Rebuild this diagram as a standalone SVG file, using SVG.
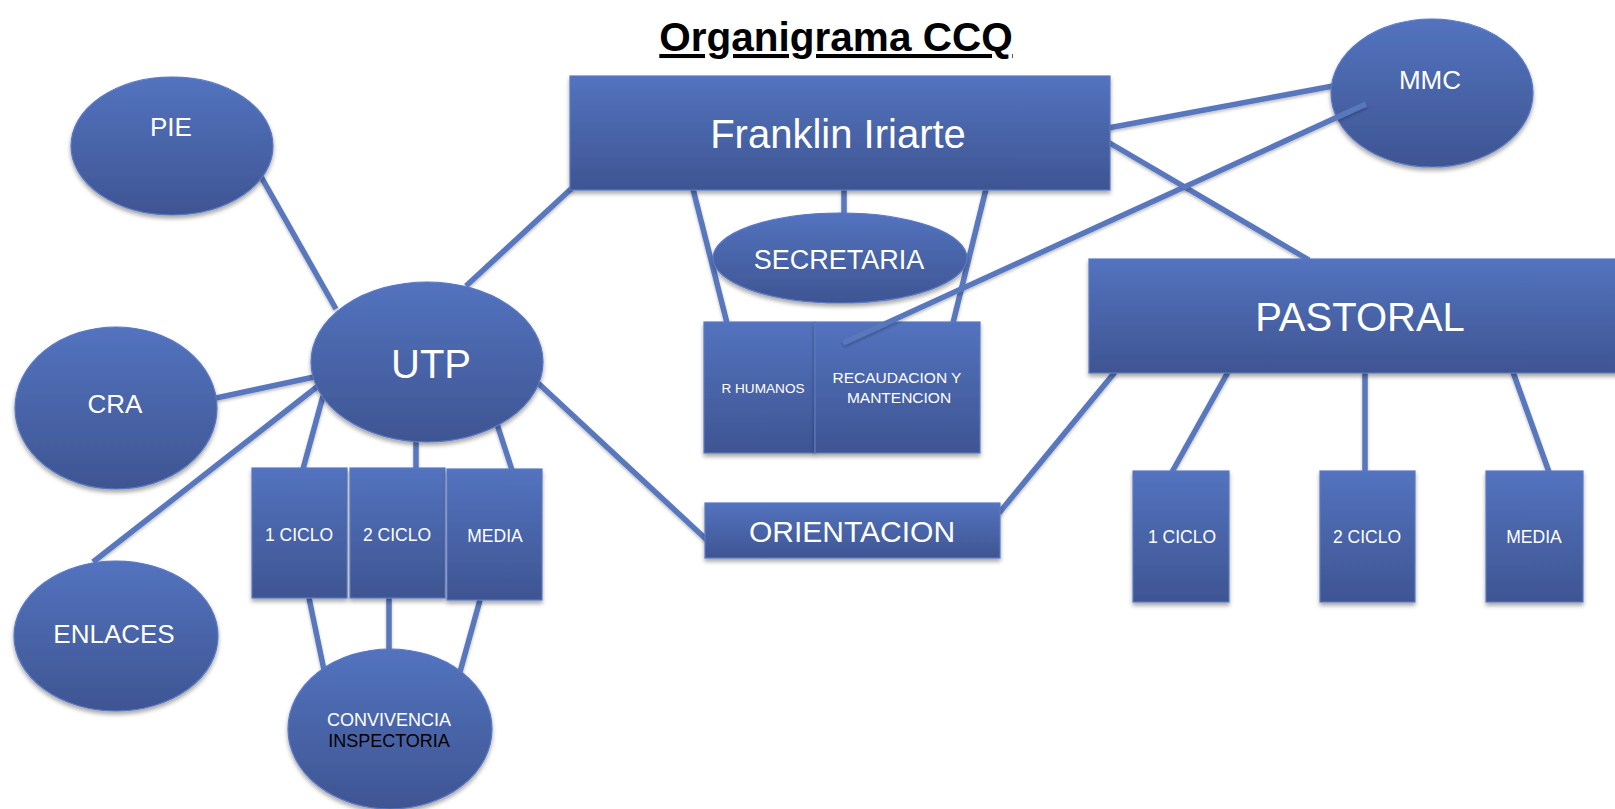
<svg xmlns="http://www.w3.org/2000/svg" width="1615" height="809" viewBox="0 0 1615 809">
<defs>
<linearGradient id="g" x1="0" y1="0" x2="0" y2="1">
<stop offset="0" stop-color="#5373BF"/>
<stop offset="1" stop-color="#3E5592"/>
</linearGradient>
<filter id="sh" x="-10%" y="-10%" width="120%" height="130%">
<feDropShadow dx="0" dy="3" stdDeviation="2.2" flood-color="#000" flood-opacity="0.35"/>
</filter>
<filter id="lsh" x="-10%" y="-10%" width="120%" height="130%">
<feDropShadow dx="0" dy="2" stdDeviation="1.5" flood-color="#000" flood-opacity="0.25"/>
</filter>
</defs>
<style>
.n{fill:url(#g);stroke:#5A78C2;stroke-width:1.2;filter:url(#sh)}
.c line{stroke:#5877BD;stroke-width:5.5;stroke-linecap:butt}
.t{font-family:"Liberation Sans",Arial,sans-serif;fill:#fff;text-anchor:middle}
.title{font-family:"Liberation Sans",Arial,sans-serif;font-weight:bold;font-size:40.5px;fill:#000;text-anchor:middle;text-decoration:underline}
</style>
<rect width="1615" height="809" fill="#fff"/>
<text class="title" x="836" y="51">Organigrama CCQ</text>
<g id="connectors" class="c" filter="url(#lsh)">
<line x1="572" y1="188" x2="466" y2="286"/>
<line x1="1108" y1="128" x2="1333" y2="86"/>
<line x1="1108" y1="142" x2="1309" y2="260"/>
<line x1="844" y1="189" x2="844" y2="215"/>
<line x1="693" y1="189" x2="727" y2="323"/>
<line x1="986" y1="189" x2="953" y2="323"/>
<line x1="538" y1="383" x2="707" y2="540"/>
<line x1="999" y1="513" x2="1115" y2="372"/>
<line x1="1228" y1="372" x2="1172" y2="472"/>
<line x1="1365" y1="372" x2="1365" y2="472"/>
<line x1="1513" y1="372" x2="1549" y2="472"/>
<line x1="259" y1="173" x2="336" y2="309"/>
<line x1="216" y1="398" x2="314" y2="377"/>
<line x1="93" y1="562" x2="318" y2="386"/>
<line x1="323" y1="396" x2="303" y2="469"/>
<line x1="416" y1="441" x2="416" y2="469"/>
<line x1="497" y1="424" x2="512" y2="470"/>
<line x1="309" y1="598" x2="324" y2="670"/>
<line x1="389" y1="598" x2="389" y2="652"/>
<line x1="480" y1="600" x2="460" y2="672"/>
</g>
<g id="franklin"><rect class="n" x="570" y="76" width="540" height="114"/><text class="t" x="838" y="148" font-size="40">Franklin Iriarte</text></g>
<g id="mmc"><ellipse class="n" cx="1432" cy="93" rx="101" ry="74"/><text class="t" x="1430" y="89" font-size="26">MMC</text></g>
<g id="secretaria"><ellipse class="n" cx="840" cy="258" rx="127" ry="45"/><text class="t" x="839" y="269" font-size="27">SECRETARIA</text></g>
<g id="rhumanos"><rect class="n" x="704" y="322" width="111" height="131"/><text class="t" x="763" y="393" font-size="13.6">R HUMANOS</text></g>
<g id="recaudacion"><rect class="n" x="815" y="322" width="165" height="131"/><text class="t" x="897" y="383" font-size="15.5">RECAUDACION Y</text><text class="t" x="899" y="403" font-size="15.5">MANTENCION</text></g>
<g id="orientacion"><rect class="n" x="705" y="503" width="295" height="55"/><text class="t" x="852" y="542" font-size="30">ORIENTACION</text></g>
<g id="pastoral"><rect class="n" x="1089" y="259" width="540" height="114"/><text class="t" x="1360" y="331" font-size="40">PASTORAL</text></g>
<g id="p1ciclo"><rect class="n" x="1133" y="471" width="96" height="131"/><text class="t" x="1182" y="543" font-size="17.5">1 CICLO</text></g>
<g id="p2ciclo"><rect class="n" x="1320" y="471" width="95" height="131"/><text class="t" x="1367" y="543" font-size="17.5">2 CICLO</text></g>
<g id="pmedia"><rect class="n" x="1486" y="471" width="97" height="131"/><text class="t" x="1534" y="543" font-size="17.5">MEDIA</text></g>
<g id="pie"><ellipse class="n" cx="172" cy="146" rx="101" ry="69"/><text class="t" x="171" y="136" font-size="26">PIE</text></g>
<g id="cra"><ellipse class="n" cx="116" cy="408" rx="101" ry="81"/><text class="t" x="115" y="413" font-size="26">CRA</text></g>
<g id="enlaces"><ellipse class="n" cx="116" cy="636" rx="102" ry="75"/><text class="t" x="114" y="643" font-size="26">ENLACES</text></g>
<g id="utp"><ellipse class="n" cx="427" cy="362" rx="116" ry="80"/><text class="t" x="431" y="378" font-size="40">UTP</text></g>
<g id="u1ciclo"><rect class="n" x="252" y="468" width="95" height="130"/><text class="t" x="299" y="541" font-size="17.5">1 CICLO</text></g>
<g id="u2ciclo"><rect class="n" x="350" y="468" width="95" height="130"/><text class="t" x="397" y="541" font-size="17.5">2 CICLO</text></g>
<g id="umedia"><rect class="n" x="447" y="469" width="95" height="131"/><text class="t" x="495" y="542" font-size="17.5">MEDIA</text></g>
<g id="convivencia"><ellipse class="n" cx="390" cy="729" rx="102" ry="80"/><text class="t" x="389" y="726" font-size="18">CONVIVENCIA</text><text class="t" x="389" y="747" font-size="18" style="fill:#000">INSPECTORIA</text></g>
<g id="connectors-over" class="c" filter="url(#lsh)">
<line x1="1366" y1="104" x2="843" y2="343"/>
</g>
</svg>
